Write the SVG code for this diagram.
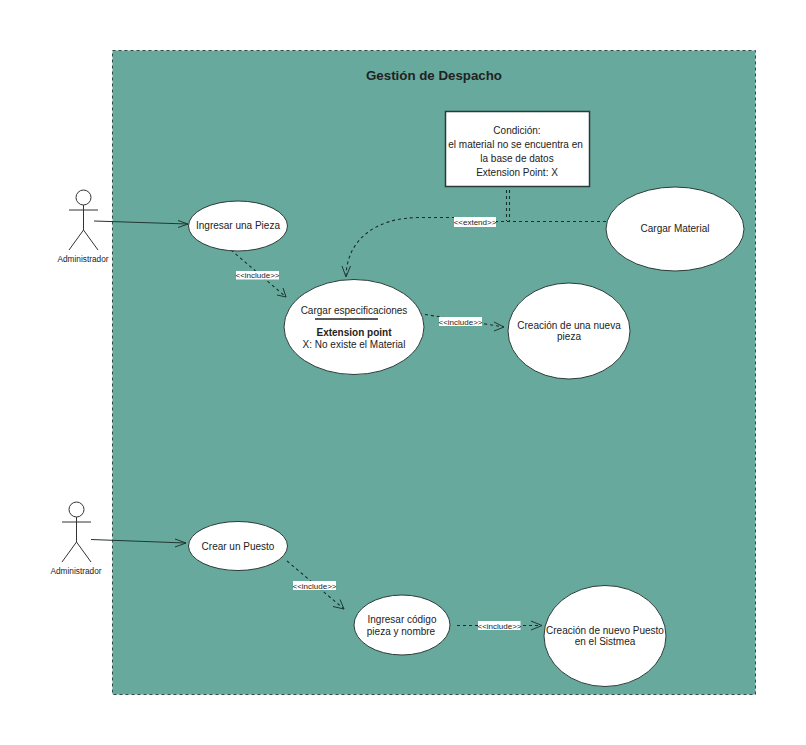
<svg xmlns="http://www.w3.org/2000/svg" width="806" height="745" viewBox="0 0 806 745">
<style>
text{font-family:"Liberation Sans",Arial,sans-serif;fill:#222;font-size:10px;text-anchor:middle}
.uc{fill:#fff;stroke:#2b3b38;stroke-width:1}
.actor{fill:none;stroke:#333;stroke-width:1}
.solid{fill:none;stroke:#1f3733;stroke-width:1}
.dash{fill:none;stroke:#1a2f2b;stroke-width:1.100;stroke-dasharray:3 3}
.head{fill:none;stroke:#1f3733;stroke-width:1}
.lab{fill:#fff}
.small{font-size:8px}
</style>
<rect id="system" x="112.500" y="50.500" width="643" height="644" fill="#67aa9d" stroke="#2f4a45" stroke-dasharray="3 3"/>
<text id="title" x="434" y="80" style="font-size:13.300px;font-weight:bold">Gestión de Despacho</text>
<g id="connectors">
<path class="solid" d="M94 221L188 224"/><path class="head" d="M178 220.500L188 224L178 227.500"/>
<path class="solid" d="M91 539.500L186 543"/><path class="head" d="M175 539L186 543L175 547"/>
<path class="dash" d="M231 250L286 297"/><path class="head" d="M277 295L286 297L283 288"/>
<path class="dash" d="M419 313.500L504 327"/><path class="head" d="M494 322L504 327L494 331"/>
<path class="dash" d="M606 221.500H496M455 217.500H420C375 217.500 347 240 346 276"/><path class="head" d="M342 266L346 277L350.500 266"/>
<path class="dash" d="M506.500 190V221M509.500 190V221"/>
<path class="dash" d="M287 561L344 609"/><path class="head" d="M333 606.500L344 609L340 599.500"/>
<path class="dash" d="M457 625.500H542"/><path class="head" d="M531 621L542 625.500L531 630"/>
</g>
<g id="actor1"><circle class="actor" cx="83.500" cy="197.500" r="7.500"/><path class="actor" d="M83.500 205V230M69 210H98M83.500 230L69 250M83.500 230L98 250"/><text class="small" x="83" y="262" style="font-size:8.300px">Administrador</text></g>
<g id="actor2"><circle class="actor" cx="76.500" cy="509.500" r="7.500"/><path class="actor" d="M76.500 517V542M62 522H91M76.500 542L62 562M76.500 542L91 562"/><text class="small" x="76" y="574" style="font-size:8.300px">Administrador</text></g>
<g id="uc-pieza"><ellipse class="uc" cx="238" cy="226" rx="49.500" ry="25"/><text x="238" y="229">Ingresar una Pieza</text></g>
<g id="uc-cargar"><ellipse class="uc" cx="354" cy="327" rx="70" ry="47.500"/><text x="354" y="314">Cargar especificaciones</text><path d="M315 319H378" stroke="#222" stroke-width="1.500"/><text x="354" y="336" style="font-weight:bold">Extension point</text><text x="354" y="348">X: No existe el Material</text></g>
<g id="uc-nueva"><ellipse class="uc" cx="569" cy="331" rx="61" ry="48"/><text x="569" y="329">Creación de una nueva</text><text x="569" y="340">pieza</text></g>
<g id="uc-material"><ellipse class="uc" cx="675" cy="229" rx="69" ry="42"/><text x="675" y="232">Cargar Material</text></g>
<g id="note"><rect x="445.500" y="111.500" width="144" height="75" fill="#fff" stroke="#2b3b38" stroke-width="1.500"/><text x="517" y="134">Condición:</text><text x="515.500" y="148">el material no se encuentra en</text><text x="517" y="162">la base de datos</text><text x="517" y="176">Extension Point: X</text></g>
<g id="uc-puesto"><ellipse class="uc" cx="238" cy="546" rx="49.500" ry="24.500"/><text x="238" y="550">Crear un Puesto</text></g>
<g id="uc-codigo"><ellipse class="uc" cx="402" cy="625" rx="48" ry="30"/><text x="402" y="623">Ingresar código</text><text x="401" y="635">pieza y nombre</text></g>
<g id="uc-sistema"><ellipse class="uc" cx="605" cy="636" rx="61" ry="50.500"/><text x="605" y="634">Creación de nuevo Puesto</text><text x="605" y="645">en el Sistmea</text></g>
<g id="labels">
<rect class="lab" x="236" y="271" width="43" height="8.500"/><text class="small" x="257.500" y="278">&lt;&lt;include&gt;&gt;</text>
<rect class="lab" x="439" y="317" width="43" height="9"/><text class="small" x="460.500" y="324.500">&lt;&lt;include&gt;&gt;</text>
<rect class="lab" x="454" y="217" width="42" height="10"/><text class="small" x="475" y="224.500">&lt;&lt;extend&gt;&gt;</text>
<rect class="lab" x="293" y="581" width="43" height="9"/><text class="small" x="314.500" y="588.500">&lt;&lt;include&gt;&gt;</text>
<rect class="lab" x="478" y="621" width="42.500" height="9"/><text class="small" x="499.500" y="628.500">&lt;&lt;include&gt;&gt;</text>
</g>
</svg>
